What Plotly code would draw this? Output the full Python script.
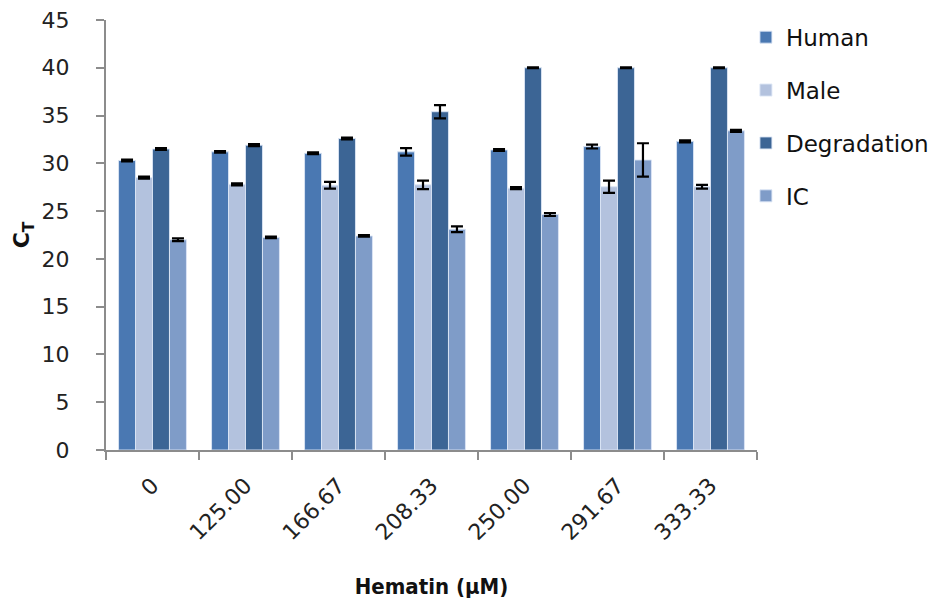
import plotly.graph_objects as go

categories = ["0", "125.00", "166.67", "208.33", "250.00", "291.67", "333.33"]
human = [30.3, 31.2, 31.05, 31.2, 31.4, 31.75, 32.3]
human_err = [0.1, 0.08, 0.1, 0.4, 0.1, 0.2, 0.1]
male = [28.5, 27.8, 27.7, 27.75, 27.4, 27.55, 27.55]
male_err = [0.1, 0.1, 0.35, 0.45, 0.1, 0.65, 0.2]
degradation = [31.5, 31.9, 32.6, 35.4, 40.0, 40.0, 40.0]
degradation_err = [0.1, 0.1, 0.1, 0.7, 0.05, 0.05, 0.05]
ic = [22.0, 22.25, 22.4, 23.1, 24.65, 30.35, 33.4]
ic_err = [0.15, 0.08, 0.08, 0.3, 0.15, 1.75, 0.1]

series = [
    ("Human", human, human_err, "#4A78B2"),
    ("Male", male, male_err, "#B3C2DE"),
    ("Degradation", degradation, degradation_err, "#3C6595"),
    ("IC", ic, ic_err, "#7F9CC8"),
]

FONT = "DejaVu Sans"
TITLE_FONT = "DejaVu Sans Condensed, DejaVu Sans"

fig = go.Figure()
for i, (name, vals, errs, col) in enumerate(series):
    fig.add_trace(go.Bar(
        name=name, x=categories, y=vals,
        marker=dict(color=col, line=dict(color="rgba(220,230,245,0.9)", width=1)),
        error_y=dict(type="data", array=errs, visible=True, color="black",
                     thickness=2.2, width=6),
        legendgroup=name,
    ))

fig.update_layout(
    width=946, height=605,
    margin=dict(l=106, r=189, t=20, b=155, autoexpand=False),
    paper_bgcolor="white", plot_bgcolor="white",
    barmode="group", bargap=0.27, bargroupgap=0,
    font=dict(family=FONT, size=21, color="#222"),
    legend=dict(x=0.983, y=1.01, xanchor="left", yanchor="top",
                font=dict(size=23, color="#111"), tracegroupgap=20,
                itemwidth=30, bgcolor="rgba(0,0,0,0)"),
    showlegend=True,
)
fig.update_xaxes(
    type="category", showline=True, linecolor="#8c8c8c", linewidth=2,
    ticks="outside", tickson="boundaries", ticklen=8, tickcolor="#8c8c8c",
    tickwidth=2, tickangle=-45, tickfont=dict(size=22, color="#222"),
    ticklabelstandoff=12,
    showgrid=False, automargin=False,
    title=dict(text="<b>Hematin (µM)</b>", font=dict(family=TITLE_FONT, size=22, color="#111"), standoff=34),
)
fig.update_yaxes(
    range=[0, 45], dtick=5, showline=True, linecolor="#8c8c8c", linewidth=2,
    ticks="outside", ticklen=8, tickcolor="#8c8c8c", tickwidth=2,
    ticklabelstandoff=22,
    tickfont=dict(size=22, color="#222"), showgrid=False, zeroline=False,
    automargin=False,
    title=dict(text="<b>C<sub>T</sub></b>", font=dict(size=22, color="#111"), standoff=6),
)

fig.write_html("out.html")
